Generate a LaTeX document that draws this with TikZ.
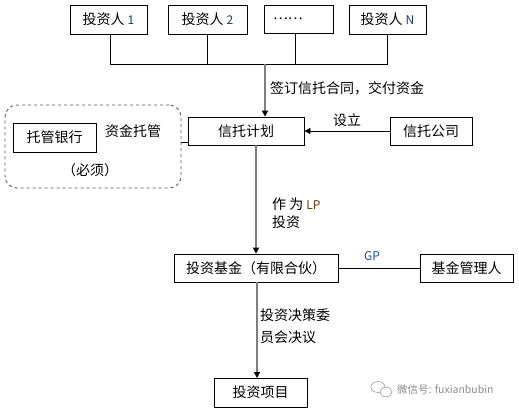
\documentclass[tikz,border=0pt]{standalone}
\usepackage{fontspec}
\setmainfont{Noto Sans CJK SC}
\usetikzlibrary{arrows.meta}
\definecolor{numblue}{HTML}{1F3A6E}
\definecolor{lpbrown}{HTML}{6B3A10}
\definecolor{gpblue}{HTML}{1F4E9A}
\definecolor{arrgray}{HTML}{7F7F7F}
\tikzset{
  box/.style={draw=black, line width=0.8pt, inner sep=0pt, font=\fontsize{14}{16}\selectfont},
  lbl/.style={inner sep=0pt, font=\fontsize{14}{16}\selectfont},
  conn/.style={draw=black, line width=0.8pt},
  flow/.style={draw=arrgray, line width=1.4pt, -{Triangle[width=6pt,length=6pt,color=black]}},
  flowk/.style={draw=black, line width=0.8pt, -{Triangle[width=6pt,length=6pt,color=black]}},
  grpbox/.style={draw=black!65, dashed, line width=0.9pt, rounded corners=12pt, inner sep=0pt}
}
\begin{document}
\begin{tikzpicture}[x=1pt,y=-1pt]
\useasboundingbox[fill=white] (0,0) rectangle (519,413);
% investors
\node[box, minimum width=77, minimum height=29] (inv1) at (108.5,19.5) {投资人 \textcolor{numblue}{\fontsize{12}{14}\selectfont 1}};
\node[box, minimum width=79, minimum height=29] (inv2) at (207.5,19.5) {投资人 \textcolor{numblue}{\fontsize{12}{14}\selectfont 2}};
\node[box, minimum width=69, minimum height=28, text width=61pt, inner xsep=4pt, align=left] (invd) at (298.5,19) {\hspace{5pt}……};
\node[box, minimum width=77, minimum height=29] (invN) at (387.5,19.5) {投资人 \textcolor{numblue}{\fontsize{12}{14}\selectfont N}};
\coordinate (bus) at (265,64);
\draw[conn] (inv1.south -| 110,0) -- (110,64) -- (invN.south |- bus) -- (invN.south);
\draw[conn] (inv2.south) -- (inv2.south |- bus);
\draw[conn] (invd.south -| 295,0) -- (295,64);
% trust plan
\node[box, minimum width=116, minimum height=28] (trust) at (246,131) {信托计划};
\node[box, minimum width=82, minimum height=28] (comp) at (431,131) {信托公司};
\draw[flow] (bus) -- (bus |- trust.north);
\node[lbl, anchor=west] (l1) at (270,88) {签订信托合同，交付资金};
\draw[flowk] (comp.west) -- (trust.east);
\node[lbl] (l2) at (347,120) {设立};
% custody group
\node[grpbox, minimum width=176, minimum height=83] (grp) at (93,146.5) {};
\node[box, minimum width=83, minimum height=29] (bank) at (54.5,137.5) {托管银行};
\node[lbl, anchor=west] (l3) at (105,131) {资金托管};
\node[lbl] (l4) at (90,170) {（必须）};
\draw[conn] (grp.east |- 0,142) -- (trust.west |- 0,142);
% fund
\node[box, minimum width=164, minimum height=28] (fund) at (256,268) {投资基金（有限合伙）};
\node[box, minimum width=93, minimum height=28] (mgr) at (466.5,268) {基金管理人};
\draw[flow] (trust.south -| fund.north) -- (fund.north);
\node[lbl, anchor=west] (l5) at (272,204) {作 为 \textcolor{lpbrown}{\fontsize{12}{14}\selectfont LP}};
\node[lbl, anchor=west] (l6) at (272,222) {投资};
\draw[conn] (fund.east) -- (mgr.west);
\node[lbl, text=gpblue, font=\fontsize{12}{14}\selectfont] (l7) at (372,256) {GP};
% project
\node[box, minimum width=93, minimum height=29] (proj) at (260.5,392.5) {投资项目};
\draw[flow] (fund.south -| 257,0) -- (257,378);
\node[lbl, anchor=west] (l8) at (260,315) {投资决策委};
\node[lbl, anchor=west] (l9) at (260,337) {员会决议};
% watermark
\begin{scope}[draw=black!35, line width=0.7pt]
\draw (378,387) ellipse (7 and 5.5);
\draw[fill=white] (386,392) ellipse (6 and 4.8);
\end{scope}
\node[inner sep=0pt, anchor=west, text=black!45, font=\fontsize{10.5}{12}\selectfont] (wm) at (397,390) {微信号: fuxianbubin};
\end{tikzpicture}
\end{document}
